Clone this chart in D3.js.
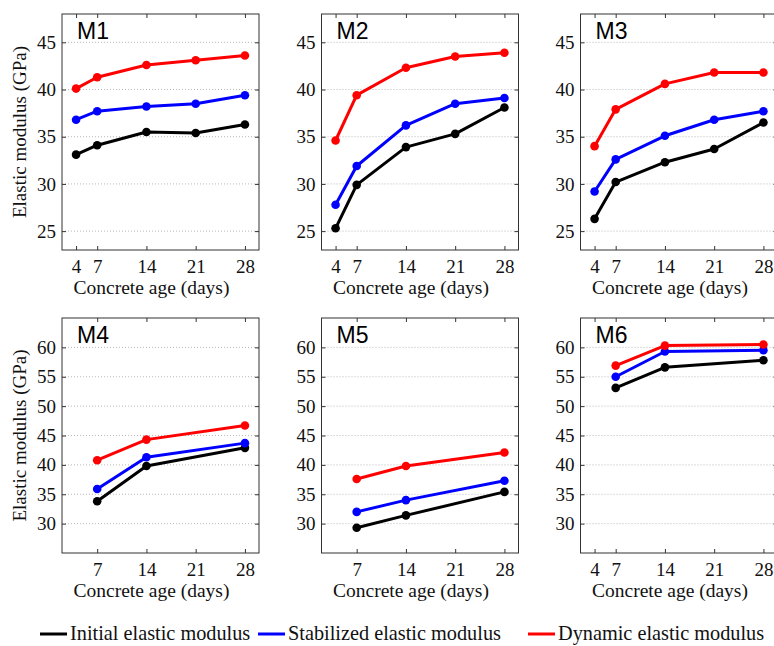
<!DOCTYPE html>
<html>
<head>
<meta charset="utf-8">
<script src="https://cdn.jsdelivr.net/npm/d3@7"></script>
<style>
  html, body { margin: 0; padding: 0; background: #fff; }
  svg { display: block; }
  .serif { font-family: "Liberation Serif", "Times New Roman", Times, serif; }
  .sans { font-family: "Liberation Sans", Arial, Helvetica, sans-serif; }
</style>
</head>
<body>
<svg id="chart" width="774" height="646"></svg>
<script>
// ---------- DATA ----------
const panelNames = ["M1", "M2", "M3", "M4", "M5", "M6"];
const daysFull = [4, 7, 14, 21, 28];
const daysShort = [7, 14, 28];
const panelDays = [daysFull, daysFull, daysFull, daysShort, daysShort, daysShort];

const initialModulus = [
  [33.1, 34.1, 35.5, 35.4, 36.3],
  [25.3, 29.9, 33.9, 35.3, 38.1],
  [26.3, 30.2, 32.3, 33.7, 36.5],
  [33.8, 39.8, 42.9],
  [29.3, 31.4, 35.4],
  [53.1, 56.6, 57.8]
];
const stabilizedModulus = [
  [36.8, 37.7, 38.2, 38.5, 39.4],
  [27.8, 31.9, 36.2, 38.5, 39.1],
  [29.2, 32.6, 35.1, 36.8, 37.7],
  [35.9, 41.3, 43.7],
  [32.0, 34.0, 37.3],
  [55.0, 59.3, 59.5]
];
const dynamicModulus = [
  [40.1, 41.3, 42.6, 43.1, 43.6],
  [34.6, 39.4, 42.3, 43.5, 43.9],
  [34.0, 37.9, 40.6, 41.8, 41.8],
  [40.8, 44.3, 46.7],
  [37.6, 39.8, 42.1],
  [56.9, 60.3, 60.5]
];

const xTicksTopRow = [4, 7, 14, 21, 28];
const xTicksM4M5 = [7, 14, 21, 28];
const panelXTicks = [xTicksTopRow, xTicksTopRow, xTicksTopRow, xTicksM4M5, xTicksM4M5, xTicksTopRow];
const xDomain = [2, 30];
const yDomainTop = [23, 48];
const yDomainBottom = [25, 65];
const yTicksTop = [25, 30, 35, 40, 45];
const yTicksBottom = [30, 35, 40, 45, 50, 55, 60];

const seriesNames = ["Initial elastic modulus", "Stabilized elastic modulus", "Dynamic elastic modulus"];
const seriesColors = ["#000000", "#0000ff", "#ff0000"];
const seriesData = [initialModulus, stabilizedModulus, dynamicModulus];

const xAxisTitle = "Concrete age (days)";
const yAxisTitle = "Elastic modulus (GPa)";

// ---------- LAYOUT ----------
const svg = d3.select("#chart");
const colLeft = [62, 321.5, 580.5];
const rowTop = [14, 318];
const pw = 197;
const phs = [236, 235];

panelNames.forEach((name, i) => {
  const col = i % 3, row = Math.floor(i / 3);
  const ph = phs[row];
  const g = svg.append("g").attr("transform", `translate(${colLeft[col]},${rowTop[row]})`);
  const x = d3.scaleLinear().domain(xDomain).range([0, pw]);
  const y = d3.scaleLinear().domain(row === 0 ? yDomainTop : yDomainBottom).range([ph, 0]);
  const yTicks = row === 0 ? yTicksTop : yTicksBottom;
  const xTicks = panelXTicks[i];

  // grid lines
  g.append("g").selectAll("line").data(yTicks).join("line")
    .attr("x1", 0).attr("x2", pw)
    .attr("y1", d => y(d)).attr("y2", d => y(d))
    .attr("stroke", "#b8b8b8").attr("stroke-width", 1)
    .attr("stroke-dasharray", "1,2");

  // axes with inward ticks
  const tickLen = 4;
  const xa = g.append("g").attr("transform", `translate(0,${ph})`)
    .call(d3.axisBottom(x).tickValues(xTicks).tickSize(-tickLen).tickPadding(10).tickFormat(d3.format("d")));
  const xt = g.append("g")
    .call(d3.axisTop(x).tickValues(xTicks).tickSize(-tickLen).tickFormat(""));
  const ya = g.append("g")
    .call(d3.axisLeft(y).tickValues(yTicks).tickSize(-tickLen).tickPadding(6).tickFormat(d3.format("d")));
  const yr = g.append("g").attr("transform", `translate(${pw},0)`)
    .call(d3.axisRight(y).tickValues(yTicks).tickSize(-tickLen).tickFormat(""));
  [xa, xt, ya, yr].forEach(a => {
    a.select(".domain").remove();
    a.attr("font-family", null).attr("font-size", null);
    a.selectAll(".tick line").attr("stroke", "#333");
    a.selectAll("text").attr("class", "serif").style("font-size", "19px").attr("fill", "#111");
  });

  // frame
  g.append("rect").attr("x", 0).attr("y", 0).attr("width", pw).attr("height", ph)
    .attr("fill", "none").attr("stroke", "#333").attr("stroke-width", 1);

  // series
  const days = panelDays[i];
  seriesData.forEach((sd, s) => {
    const pts = days.map((d, k) => [d, sd[i][k]]);
    g.append("path").datum(pts)
      .attr("d", d3.line().x(p => x(p[0])).y(p => y(p[1])))
      .attr("fill", "none").attr("stroke", seriesColors[s]).attr("stroke-width", 3)
      .attr("stroke-linejoin", "round");
    g.append("g").selectAll("circle").data(pts).join("circle")
      .attr("cx", p => x(p[0])).attr("cy", p => y(p[1])).attr("r", 4.3)
      .attr("fill", seriesColors[s]);
  });

  // panel label
  g.append("text").attr("x", 15).attr("y", 25).attr("class", "sans")
    .style("font-size", "23px").attr("fill", "#000").text(name);

  // x title
  g.append("text").attr("x", pw / 2 - 9).attr("y", ph + 44).attr("class", "serif")
    .attr("text-anchor", "middle").style("font-size", "19.5px")
    .attr("fill", "#111").text(xAxisTitle);

  // y title
  if (col === 0) {
    g.append("text").attr("transform", `translate(-36,${ph / 2}) rotate(-90)`).attr("class", "serif")
      .attr("text-anchor", "middle").style("font-size", "19px")
      .attr("fill", "#111").text(yAxisTitle);
  }
});

// ---------- LEGEND ----------
const legendX = [40, 258, 528];
const legend = svg.append("g").attr("transform", "translate(0,634)");
seriesNames.forEach((n, s) => {
  legend.append("line").attr("x1", legendX[s]).attr("x2", legendX[s] + 27)
    .attr("y1", 0).attr("y2", 0).attr("stroke", seriesColors[s]).attr("stroke-width", 3);
  legend.append("text").attr("x", legendX[s] + 30).attr("y", 6).attr("class", "serif")
    .style("font-size", "20.3px").attr("fill", "#111").text(n);
});
</script>
</body>
</html>
